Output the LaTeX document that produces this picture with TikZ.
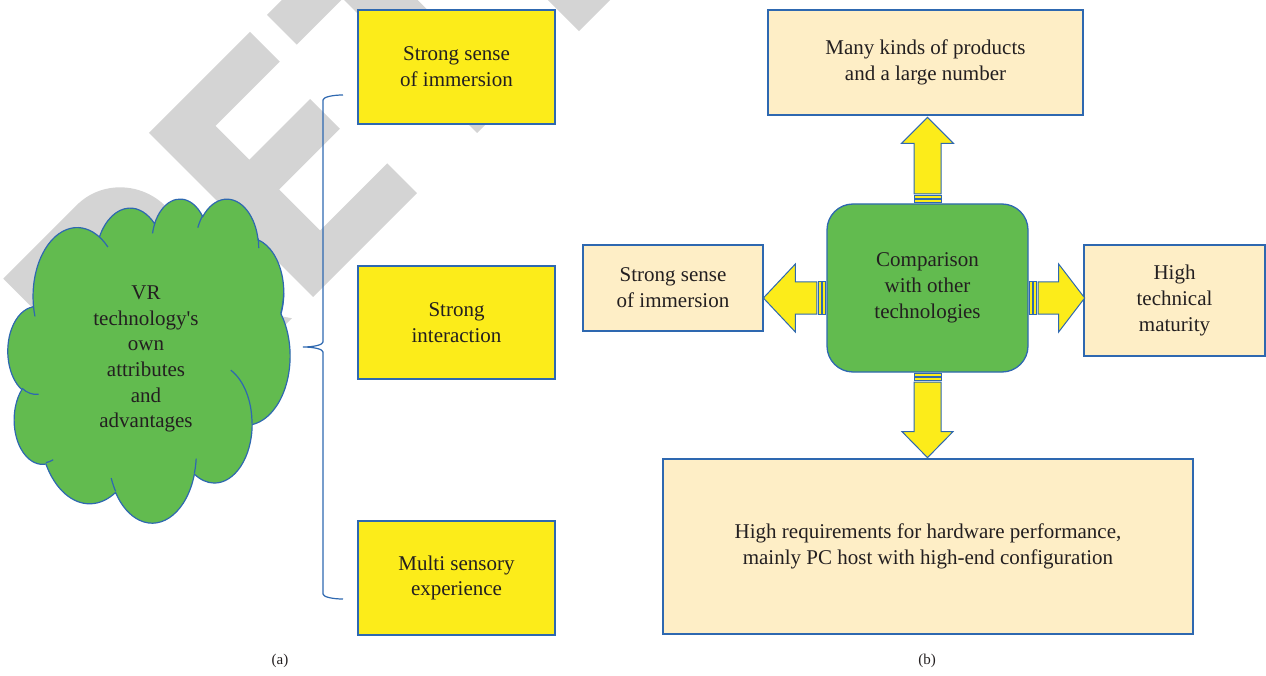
\documentclass[tikz,border=0pt]{standalone}
\usepackage{fontspec}
\setmainfont{Liberation Serif}
\usetikzlibrary{calc}
\definecolor{ylw}{RGB}{252,236,26}
\definecolor{beige}{RGB}{254,238,198}
\definecolor{leaf}{RGB}{98,187,79}
\definecolor{edgeblue}{RGB}{46,104,176}
\definecolor{wmgray}{RGB}{212,212,212}
\definecolor{ink}{RGB}{35,31,32}

% block arrow with two stripes at its tail: #1 tail point, #2 direction,
% #3 length, #4 head length, #5 head half-width, #6 shaft half-width
\newcommand\stripedarrow[6]{%
  \begin{scope}[shift={#1}, rotate=#2]
    \filldraw[arrowpart] (0.8,-#6) rectangle (3.4,#6);
    \filldraw[arrowpart] (4.8,-#6) rectangle (8.0,#6);
    \filldraw[arrowpart] (9.5,-#6) -- ({#3-#4},-#6) -- ({#3-#4},-#5) -- (#3,0)
      -- ({#3-#4},#5) -- ({#3-#4},#6) -- (9.5,#6) -- cycle;
  \end{scope}}

% one letter R of the background stamp, left edge at u = #1
\newcommand\stampR[1]{%
  \fill[wmgray, even odd rule, shift={(#1,0)}]
    (0,0) -- (0,232) -- (104,232)
    arc[start angle=90, end angle=-90, x radius=62, y radius=64]
    -- (176,0) -- (118,0) -- (72,92) -- (52,92) -- (52,0) -- cycle
    (52,146) -- (104,146)
    arc[start angle=-90, end angle=90, x radius=21, y radius=22]
    -- (52,190) -- cycle;}

\tikzset{
  arrowpart/.style={fill=ylw, draw=edgeblue, line width=1pt, line join=miter},
  txt/.style={text=ink, align=center, font=\fontsize{21}{25.7}\selectfont, inner sep=0pt},
  ybox/.style={txt, draw=edgeblue, line width=1.3pt, fill=ylw},
  pbox/.style={txt, draw=edgeblue, line width=1.3pt, fill=beige},
  gbox/.style={txt, draw=edgeblue, line width=1.3pt, fill=leaf, rounded corners=26pt},
  cloudline/.style={draw=edgeblue, line width=1.2pt},
  bracket/.style={draw=edgeblue, line width=1.2pt},
  caption/.style={text=ink, font=\fontsize{15}{18}\selectfont, inner sep=0pt}
}

\begin{document}
\begin{tikzpicture}[x=1pt, y=-1pt]
\useasboundingbox (0,0) rectangle (1266,676);
\clip (0,0) rectangle (1266,676);

% background stamp lettering, set on a 45 degree slant
\begin{scope}[shift={(313,297)}, x={(0.7071pt,0.7071pt)}, y={(-0.7071pt,0.7071pt)}]
  \stampR{-206}
  \fill[wmgray] (0,0) -- (147,0) -- (147,42) -- (52,42) -- (52,100) -- (138,100)
    -- (138,142) -- (52,142) -- (52,190) -- (143,190) -- (143,232) -- (0,232) -- cycle;
  \fill[wmgray] (167,190) -- (167,232) -- (349,232) -- (349,190) -- (284,190)
    -- (284,0) -- (232,0) -- (232,190) -- cycle;
  \stampR{376}
\end{scope}

% ---------- (a) ----------
\draw[bracket] (343,95) arc[start angle=-90, end angle=-180, x radius=20, y radius=5]
  -- (323,342) arc[start angle=0, end angle=90, x radius=20, y radius=5]
  arc[start angle=-90, end angle=0, x radius=20, y radius=5]
  -- (323,594) arc[start angle=180, end angle=90, x radius=20, y radius=5];

\node[ybox, minimum width=197pt, minimum height=114pt] (a1) at (456.5,67)
  {Strong sense\\of immersion};
\node[ybox, minimum width=197pt, minimum height=113pt] (a2) at (456.5,322.5)
  {Strong\\interaction};
\node[ybox, minimum width=197pt, minimum height=114pt] (a3) at (456.5,578)
  {Multi sensory\\experience};

% cloud outline
\begin{scope}[shift={(8,198)}, x=0.65278pt, y=-0.75pt]
  \filldraw[cloudline, fill=leaf] (39.00,143.70)
    arc[start angle=-187.746, end angle=-59.64, x radius=67.53, y radius=91.90]
    arc[start angle=-152.02, end angle=-45.44, x radius=53.33, y radius=72.67]
    arc[start angle=-153.49, end angle=-37.33, x radius=43.65, y radius=59.45]
    arc[start angle=-139.70, end angle=-10.21, x radius=48.57, y radius=65.95]
    arc[start angle=-74.77, end angle=23.21, x radius=53.33, y radius=72.73]
    arc[start angle=-37.52, end angle=81.86, x radius=67.75, y radius=92.20]
    arc[start angle=0.46, end angle=121.98, x radius=57.85, y radius=78.67]
    arc[start angle=16.84, end angle=146.23, x radius=67.52, y radius=92.15]
    arc[start angle=58.99, end angle=150.18, x radius=77.20, y radius=105.43]
    arc[start angle=-276.69, end angle=-136.89, x radius=43.60, y radius=59.18]
    arc[start angle=-239.64, end angle=-95.89, x radius=43.45, y radius=59.45]
    -- cycle;
  \draw[cloudline]
    (46.93,261.77) arc[start angle=85.55, end angle=120.36, x radius=43.45, y radius=59.45]
    (69.28,348.99) arc[start angle=68.25, end angle=83.31, x radius=43.60, y radius=59.18]
    (164.78,390.90) arc[start angle=146.23, end angle=158.48, x radius=67.52, y radius=92.15]
    (288.27,347.51) arc[start angle=4.74, end angle=16.84, x radius=67.52, y radius=92.15]
    (341.29,229.54) arc[start angle=-63.99, end angle=0.46, x radius=57.85, y radius=78.67]
    (417.98,153.54) arc[start angle=23.21, end angle=1.88, x radius=53.33, y radius=72.73]
    (383.24,54.26) arc[start angle=-10.21, end angle=0.82, x radius=48.57, y radius=65.95]
    (290.78,39.52) arc[start angle=-156.28, end angle=-139.70, x radius=48.57, y radius=65.95]
    (221.41,47.20) arc[start angle=-167.73, end angle=-153.49, x radius=43.65, y radius=59.45]
    (140.00,51.92) arc[start angle=-59.64, end angle=-45.74, x radius=67.53, y radius=91.90]
    (41.27,157.89) arc[start angle=163.19, end angle=172.25, x radius=67.53, y radius=91.90];
\end{scope}
\node[txt] (vr) at (146,359)
  {VR\\technology\textquotesingle s\\own\\attributes\\and\\advantages};

\node[caption] (capa) at (280,661) {(a)};

% ---------- (b) ----------
\node[pbox, minimum width=315pt, minimum height=105pt] (top) at (925.5,62.5)
  {Many kinds of products\\and a large number};
\node[gbox, minimum width=201pt, minimum height=168pt] (cmp) at (927.5,288)
  {Comparison\\with other\\technologies};
\node[pbox, minimum width=180pt, minimum height=86pt] (lft) at (673,288)
  {Strong sense\\of immersion};
\node[pbox, minimum width=181pt, minimum height=111pt] (rgt) at (1174.5,300.5)
  {High\\technical\\maturity};
\node[pbox, minimum width=530pt, minimum height=175pt] (bot) at (928,546.5)
  {High requirements for hardware performance,\\mainly PC host with high-end configuration};

\stripedarrow{(cmp.north)}{90}{86}{26}{26}{13.5}
\stripedarrow{(cmp.south)}{-90}{85}{26}{25.5}{13.5}
\stripedarrow{($(cmp.west)+(0,10)$)}{180}{63}{32}{34}{16}
\stripedarrow{($(cmp.east)+(0,10)$)}{0}{56}{26}{34}{16}

\node[caption] (capb) at (927,661) {(b)};
\end{tikzpicture}
\end{document}
